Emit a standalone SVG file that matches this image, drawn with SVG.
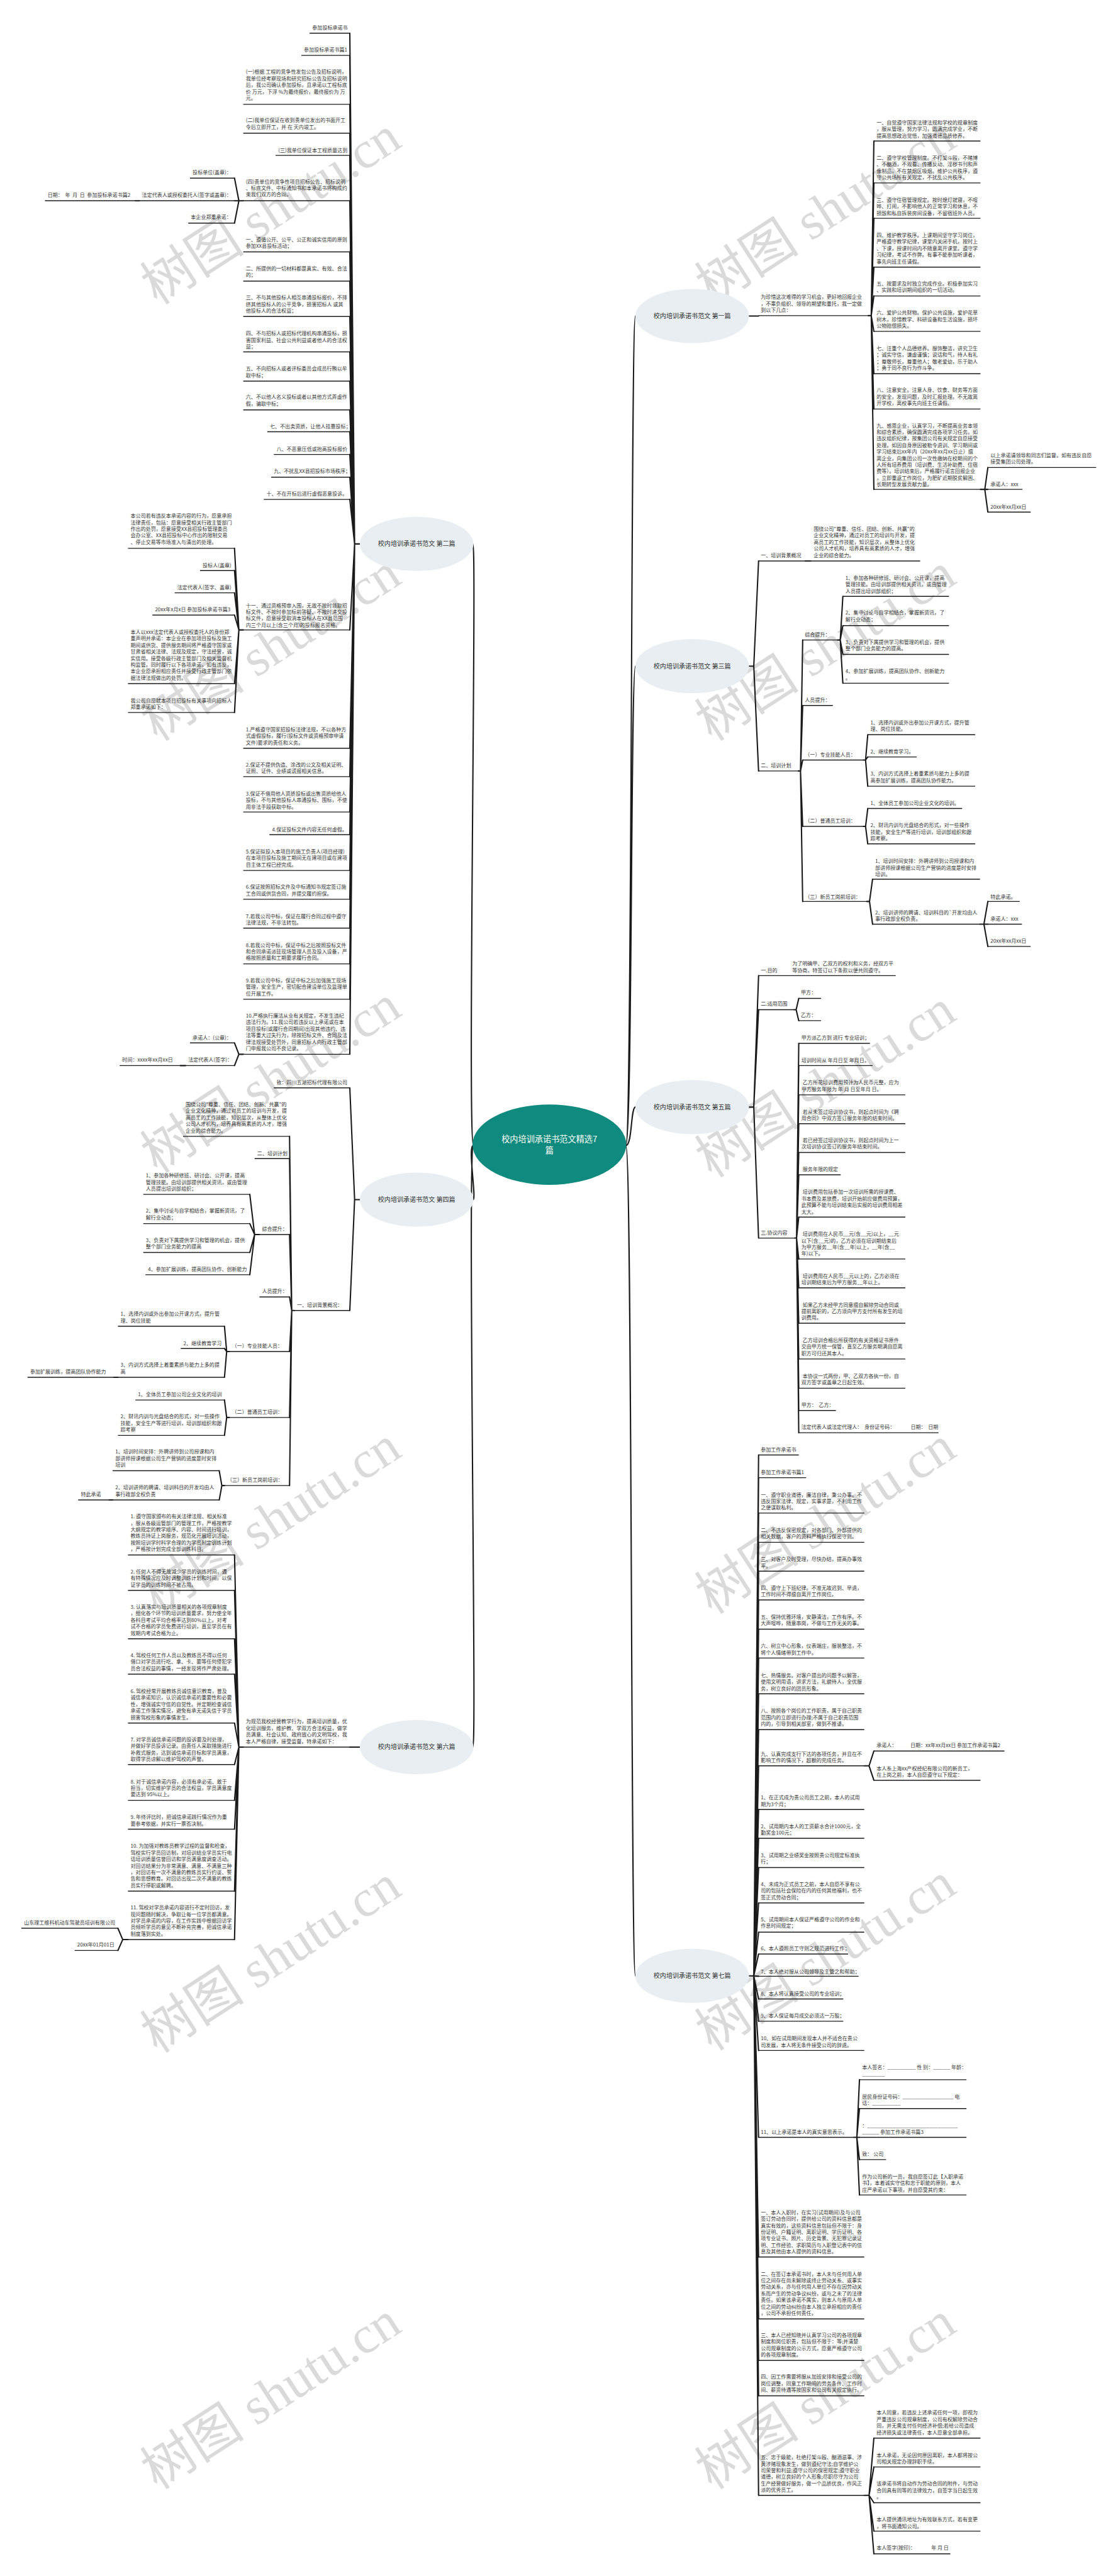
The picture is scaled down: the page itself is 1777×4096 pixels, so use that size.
<svg xmlns="http://www.w3.org/2000/svg" width="1777" height="4096" viewBox="0 0 1777 4096">
<style>
.t{font-family:"Noto Sans CJK SC","Noto Sans",sans-serif;font-size:11.6px;fill:#333;white-space:pre}
.u{stroke:#1a1a1a;stroke-width:2;fill:none}
.c{stroke:#1a1a1a;stroke-width:3;fill:none;stroke-linejoin:round;stroke-linecap:round}
.bn{fill:#e9eef3}
.bt{font-family:"Noto Sans CJK SC","Noto Sans",sans-serif;font-size:14.5px;fill:#333;text-anchor:middle}
.ct{font-family:"Noto Sans CJK SC","Noto Sans",sans-serif;font-size:19px;fill:#fff;text-anchor:middle}
.wm{font-family:"Liberation Serif","Noto Sans CJK SC",serif;font-size:120px;fill:#dadada}
</style>
<rect width="1777" height="4096" fill="#fff"/>
<g transform="scale(0.69414)">
<g id="watermarks">
<text class="wm" transform="translate(360 700) rotate(-33)">树图 shutu.cn</text>
<text class="wm" transform="translate(360 1700) rotate(-33)">树图 shutu.cn</text>
<text class="wm" transform="translate(360 2690) rotate(-33)">树图 shutu.cn</text>
<text class="wm" transform="translate(360 3700) rotate(-33)">树图 shutu.cn</text>
<text class="wm" transform="translate(360 4705) rotate(-33)">树图 shutu.cn</text>
<text class="wm" transform="translate(360 5705) rotate(-33)">树图 shutu.cn</text>
<text class="wm" transform="translate(1630 700) rotate(-33)">树图 shutu.cn</text>
<text class="wm" transform="translate(1630 1700) rotate(-33)">树图 shutu.cn</text>
<text class="wm" transform="translate(1630 2700) rotate(-33)">树图 shutu.cn</text>
<text class="wm" transform="translate(1630 3700) rotate(-33)">树图 shutu.cn</text>
<text class="wm" transform="translate(1630 4700) rotate(-33)">树图 shutu.cn</text>
<text class="wm" transform="translate(1630 5705) rotate(-33)">树图 shutu.cn</text>
</g>
<g id="connectors">
<path class="c" d="M1433 2624 C1448 2624 1444 724 1455 724 M1433 2624 C1448 2624 1444 1526 1455 1526 M1433 2624 C1448 2624 1444 2536 1455 2536 M1433 2624 C1448 2624 1444 4526 1455 4526"/>
<path class="c" d="M1084 2624 C1070 2624 1092 1246 1083 1246 M1084 2624 C1070 2624 1092 2748 1083 2748 M1084 2624 C1070 2624 1092 4002 1083 4002"/>
<path class="c" d="M824 1246 H812 M812 1246 L801 76 M812 1246 L801 127 M812 1246 L801 239 M812 1246 L801 305 M812 1246 L801 356 M812 1246 L801 460 M812 1246 L801 577 M812 1246 L801 644 M812 1246 L801 725 M812 1246 L801 806 M812 1246 L801 873 M812 1246 L801 939 M812 1246 L801 989 M812 1246 L801 1041 M812 1246 L801 1093 M812 1246 L801 1144 M812 1246 L801 1443 M812 1246 L801 1714 M812 1246 L801 1779 M812 1246 L801 1860 M812 1246 L801 1912 M812 1246 L801 1994 M812 1246 L801 2060 M812 1246 L801 2126 M812 1246 L801 2208 M812 1246 L801 2289 M812 1246 L801 2415"/>
<path class="c" d="M557 460 H547 L537 408 M547 460 L537 460 M547 460 L537 511 M319 460 H310"/>
<path class="c" d="M557 1443 H547 L537 1256 M547 1443 L537 1307 M547 1443 L537 1358 M547 1443 L537 1409 M547 1443 L537 1566 M547 1443 L537 1632"/>
<path class="c" d="M557 2415 H547 L537 2389 M547 2415 L537 2441 M425 2441 H413"/>
<path class="c" d="M824 2748 H812 L801 2492 M812 2748 L801 3002"/>
<path class="c" d="M674 3002 H668 L663 2603 M668 3002 L663 2654 M668 3002 L663 2828 M668 3002 L663 2971 M668 3002 L663 3096 M668 3002 L663 3247 M668 3002 L663 3403"/>
<path class="c" d="M594 2828 H583 L572 2736 M583 2828 L572 2803 M583 2828 L572 2869 M583 2828 L572 2920"/>
<path class="c" d="M525 3096 H519 L514 3038 M519 3096 L514 3089 M519 3096 L514 3155 M270 3155 H261"/>
<path class="c" d="M525 3247 H519 L514 3207 M519 3247 L514 3288"/>
<path class="c" d="M514 3403 H508 L502 3369 M508 3403 L502 3436 M258 3436 H250"/>
<path class="c" d="M824 4002 H801"/>
<path class="c" d="M557 4002 H547 L537 3562 M547 4002 L537 3643 M547 4002 L537 3754 M547 4002 L537 3835 M547 4002 L537 3947 M547 4002 L537 4042 M547 4002 L537 4124 M547 4002 L537 4190 M547 4002 L537 4332 M547 4002 L537 4443"/>
<path class="c" d="M293 4443 H281 L270 4417 M281 4443 L270 4468"/>
<path class="c" d="M1714 724 H1737"/>
<path class="c" d="M1988 723 H1995 L2001 323 M1995 723 L2001 419 M1995 723 L2001 500 M1995 723 L2001 612 M1995 723 L2001 678 M1995 723 L2001 759 M1995 723 L2001 856 M1995 723 L2001 937 M1995 723 L2001 1121"/>
<path class="c" d="M2245 1121 H2255 L2262 1071 M2255 1121 L2262 1121 M2255 1121 L2262 1173"/>
<path class="c" d="M1714 1526 H1726 L1737 1285 M1726 1526 L1737 1766 M1844 1285 H1856"/>
<path class="c" d="M1828 1766 H1833 L1838 1466 M1833 1766 L1838 1616 M1833 1766 L1838 1741 M1833 1766 L1838 1893 M1833 1766 L1838 2065"/>
<path class="c" d="M1918 1466 H1924 L1930 1366 M1924 1466 L1930 1433 M1924 1466 L1930 1499 M1924 1466 L1930 1565"/>
<path class="c" d="M1977 1741 H1982 L1987 1683 M1982 1741 L1987 1734 M1982 1741 L1987 1801"/>
<path class="c" d="M1977 1893 H1982 L1987 1852 M1982 1893 L1987 1933"/>
<path class="c" d="M1985 2065 H1991 L1998 2014 M1991 2065 L1998 2117"/>
<path class="c" d="M2244 2117 H2253 L2262 2065 M2253 2117 L2262 2117 M2253 2117 L2262 2168"/>
<path class="c" d="M1714 2536 H1726 L1737 2235 M1726 2536 L1737 2313 M1726 2536 L1737 2836"/>
<path class="c" d="M1818 2313 H1823 L1829 2287 M1823 2313 L1829 2338"/>
<path class="c" d="M1820 2836 H1824 L1829 2390 M1824 2836 L1829 2441 M1824 2836 L1829 2508 M1824 2836 L1829 2574 M1824 2836 L1829 2640 M1824 2836 L1829 2691 M1824 2836 L1829 2788 M1824 2836 L1829 2884 M1824 2836 L1829 2950 M1824 2836 L1829 3031 M1824 2836 L1829 3113 M1824 2836 L1829 3180 M1824 2836 L1829 3231 M1824 2836 L1829 3282"/>
<path class="c" d="M1714 4526 H1726 L1737 3333 M1726 4526 L1737 3385 M1726 4526 L1737 3466 M1726 4526 L1737 3533 M1726 4526 L1737 3599 M1726 4526 L1737 3665 M1726 4526 L1737 3732 M1726 4526 L1737 3798 M1726 4526 L1737 3880 M1726 4526 L1737 3962 M1726 4526 L1737 4045 M1726 4526 L1737 4145 M1726 4526 L1737 4211 M1726 4526 L1737 4278 M1726 4526 L1737 4359 M1726 4526 L1737 4426 M1726 4526 L1737 4476 M1726 4526 L1737 4527 M1726 4526 L1737 4579 M1726 4526 L1737 4630 M1726 4526 L1737 4697 M1726 4526 L1737 4896 M1726 4526 L1737 5170 M1726 4526 L1737 5312 M1726 4526 L1737 5407 M1726 4526 L1737 5488 M1726 4526 L1737 5716"/>
<path class="c" d="M1979 4045 H1990 L2001 4011 M1990 4045 L2001 4078"/>
<path class="c" d="M1955 4896 H1962 L1968 4764 M1962 4896 L1968 4830 M1962 4896 L1968 4896 M1962 4896 L1968 4947 M1962 4896 L1968 5028"/>
<path class="c" d="M1979 5716 H1990 L2001 5585 M1990 5716 L2001 5651 M1990 5716 L2001 5733 M1990 5716 L2001 5798 M1990 5716 L2001 5850"/>
</g>
<g id="center"><ellipse cx="1258" cy="2622" rx="176" ry="92" fill="#0f8a7e"/><text class="ct" x="1258" y="2616">校内培训承诺书范文精选7<tspan x="1258" dy="26">篇</tspan></text></g>
<g id="b2"><ellipse class="bn" cx="954" cy="1246" rx="130" ry="62"/><text class="bt" x="954" y="1251">校内培训承诺书范文 第二篇</text></g>
<g id="b4"><ellipse class="bn" cx="954" cy="2748" rx="130" ry="62"/><text class="bt" x="954" y="2753">校内培训承诺书范文 第四篇</text></g>
<g id="b6"><ellipse class="bn" cx="954" cy="4002" rx="130" ry="62"/><text class="bt" x="954" y="4007">校内培训承诺书范文 第六篇</text></g>
<g id="b1"><ellipse class="bn" cx="1585" cy="724" rx="130" ry="62"/><text class="bt" x="1585" y="729">校内培训承诺书范文 第一篇</text></g>
<g id="b3"><ellipse class="bn" cx="1585" cy="1526" rx="130" ry="62"/><text class="bt" x="1585" y="1531">校内培训承诺书范文 第三篇</text></g>
<g id="b5"><ellipse class="bn" cx="1585" cy="2536" rx="130" ry="62"/><text class="bt" x="1585" y="2541">校内培训承诺书范文 第五篇</text></g>
<g id="b7"><ellipse class="bn" cx="1585" cy="4526" rx="130" ry="62"/><text class="bt" x="1585" y="4531">校内培训承诺书范文 第七篇</text></g>

<g id="L2_1"><text class="t" x="715" y="67">参加投标承诺书</text><path class="u" d="M709 76H801"/></g>
<g id="L2_2"><text class="t" x="696" y="118">参加投标承诺书篇1</text><path class="u" d="M690 127H801"/></g>
<g id="L2_3"><text class="t" x="563" y="169">(一)根据 工程的竞争性发包公告及招标说明，<tspan x="563" dy="15">我单位经考察现场和研究招标公告及招标说明</tspan><tspan x="563" dy="15">后，我公司确认参加投标，且承诺以工程标底</tspan><tspan x="563" dy="15">价 万元，下浮 %为最终报价，最终报价为 万</tspan><tspan x="563" dy="15">元。</tspan></text><path class="u" d="M557 239H801"/></g>
<g id="L2_4"><text class="t" x="563" y="280">(二)我单位保证在收到贵单位发出的书面开工<tspan x="563" dy="15">令后立即开工，并 在 天内竣工。</tspan></text><path class="u" d="M557 305H801"/></g>
<g id="L2_5"><text class="t" x="637" y="348">(三)我单位保证本工程质量达到</text><path class="u" d="M631 356H801"/></g>
<g id="L2_6"><text class="t" x="563" y="420">(四)贵单位的竞争性项目招标公告、招标说明<tspan x="563" dy="15">、标底文件、中标通知书和本承诺书将构成约</tspan><tspan x="563" dy="15">束我们双方的合同。</tspan></text><path class="u" d="M557 460H801"/></g>
<g id="L2_6a"><text class="t" x="441" y="399">投标单位(盖章)：</text><path class="u" d="M435 408H537"/></g>
<g id="L2_6b"><text class="t" x="325" y="451">法定代表人或授权委托人(签字或盖章)：</text><path class="u" d="M319 460H537"/></g>
<g id="L2_6b1"><text class="t" x="109" y="451">日期：  年  月  日  参加投标承诺书篇2</text><path class="u" d="M103 460H310"/></g>
<g id="L2_6c"><text class="t" x="437" y="502">本企业郑重承诺：</text><path class="u" d="M431 511H537"/></g>
<g id="L2_7"><text class="t" x="563" y="553">一、遵循公开、公平、公正和诚实信用的原则<tspan x="563" dy="15">参加XX县投标活动；</tspan></text><path class="u" d="M557 577H801"/></g>
<g id="L2_8"><text class="t" x="563" y="619">二、所提供的一切材料都是真实、有效、合法<tspan x="563" dy="15">的；</tspan></text><path class="u" d="M557 644H801"/></g>
<g id="L2_9"><text class="t" x="563" y="686">三、不与其他投标人相互串通投标报价，不排<tspan x="563" dy="15">挤其他投标人的公平竞争，损害招标人 或其</tspan><tspan x="563" dy="15">他投标人的合法权益；</tspan></text><path class="u" d="M557 725H801"/></g>
<g id="L2_10"><text class="t" x="563" y="768">四、不与招标人或招标代理机构串通投标，损<tspan x="563" dy="15">害国家利益、社会公共利益或者他人的合法权</tspan><tspan x="563" dy="15">益；</tspan></text><path class="u" d="M557 806H801"/></g>
<g id="L2_11"><text class="t" x="563" y="849">五、不向招标人或者评标委员会成员行贿以牟<tspan x="563" dy="15">取中标；</tspan></text><path class="u" d="M557 873H801"/></g>
<g id="L2_12"><text class="t" x="563" y="914">六、不以他人名义投标或者以其他方式弄虚作<tspan x="563" dy="15">假，骗取中标；</tspan></text><path class="u" d="M557 939H801"/></g>
<g id="L2_13"><text class="t" x="618" y="981">七、不出卖资质，让他人挂靠投标；</text><path class="u" d="M612 989H801"/></g>
<g id="L2_14"><text class="t" x="633" y="1033">八、不恶意压低或抬高投标报价</text><path class="u" d="M627 1041H801"/></g>
<g id="L2_15"><text class="t" x="627" y="1084">九、不扰乱XX县招投标市场秩序；</text><path class="u" d="M621 1093H801"/></g>
<g id="L2_16"><text class="t" x="610" y="1135">十、不在开标后进行虚假恶意投诉。</text><path class="u" d="M604 1144H801"/></g>
<g id="L2_17"><text class="t" x="563" y="1391">十一、通过资格预审入围，无故不按时领取招<tspan x="563" dy="15">标文件、不按时参加标前答疑、不按时递交投</tspan><tspan x="563" dy="15">标文件，愿意接受取消本投标人在XX县范围</tspan><tspan x="563" dy="15">内三个月以上(含三个月)的投标报名资格。</tspan></text><path class="u" d="M557 1443H801"/></g>
<g id="L2_17a"><text class="t" x="299" y="1186">本公司若有违反本承诺内容的行为，愿意承担<tspan x="299" dy="15">法律责任，包括：愿意接受相关行政主管部门</tspan><tspan x="299" dy="15">作出的处罚，愿意接受XX县招投标管理委员</tspan><tspan x="299" dy="15">会办公室、XX县招投标中心作出的限制交易</tspan><tspan x="299" dy="15">、停止交易等市场准入与清出的处理。</tspan></text><path class="u" d="M293 1256H537"/></g>
<g id="L2_17b"><text class="t" x="464" y="1299">投标人(盖章)</text><path class="u" d="M458 1307H537"/></g>
<g id="L2_17c"><text class="t" x="406" y="1350">法定代表人(签字、盖章)</text><path class="u" d="M400 1358H537"/></g>
<g id="L2_17d"><text class="t" x="355" y="1401">20xx年x月x日 参加投标承诺书篇3</text><path class="u" d="M349 1409H537"/></g>
<g id="L2_17e"><text class="t" x="299" y="1452">本人以xxx法定代表人或授权委托人的身份郑<tspan x="299" dy="15">重声明并承诺：本企业在参加项目投标及施工</tspan><tspan x="299" dy="15">期间或供货、提供服务期间将严格遵守国家或</tspan><tspan x="299" dy="15">甘肃省相关法律、法规及规定，守法经营，诚</tspan><tspan x="299" dy="15">实信用。接受各级行政主管部门及相关监督机</tspan><tspan x="299" dy="15">构监管。同时履行以下各项承诺，如有违反，</tspan><tspan x="299" dy="15">本企业愿承担相应责任并接受行政主管部门依</tspan><tspan x="299" dy="15">据法律法规做出的处罚。</tspan></text><path class="u" d="M293 1566H537"/></g>
<g id="L2_17f"><text class="t" x="299" y="1609">我公司自愿就本项目招投标有关事项向招标人<tspan x="299" dy="15">郑重承诺如下：</tspan></text><path class="u" d="M293 1632H537"/></g>
<g id="L2_18"><text class="t" x="563" y="1675">1.严格遵守国家招投标法律法规，不以各种方<tspan x="563" dy="15">式虚假投标，履行(投标文件或资格预审申请</tspan><tspan x="563" dy="15">文件)要求的责任和义务。</tspan></text><path class="u" d="M557 1714H801"/></g>
<g id="L2_19"><text class="t" x="563" y="1756">2.保证不提供伪造、涂改的公文及相关证明、<tspan x="563" dy="15">证照、证件、业绩或谎报相关信息。</tspan></text><path class="u" d="M557 1779H801"/></g>
<g id="L2_20"><text class="t" x="563" y="1822">3.保证不借用他人资质投标或出售资质给他人<tspan x="563" dy="15">投标，不与其他投标人串通投标、围标，不使</tspan><tspan x="563" dy="15">用非法手段获取中标。</tspan></text><path class="u" d="M557 1860H801"/></g>
<g id="L2_21"><text class="t" x="623" y="1904">4.保证投标文件内容无任何虚假。</text><path class="u" d="M617 1912H801"/></g>
<g id="L2_22"><text class="t" x="563" y="1955">5.保证拟投入本项目的施工负责人(项目经理)<tspan x="563" dy="15">在本项目投标及施工期间无在建项目或在建项</tspan><tspan x="563" dy="15">目主体工程已经完成。</tspan></text><path class="u" d="M557 1994H801"/></g>
<g id="L2_23"><text class="t" x="563" y="2036">6.保证按照招标文件及中标通知书规定签订施<tspan x="563" dy="15">工合同或供货合同，并提交履约担保。</tspan></text><path class="u" d="M557 2060H801"/></g>
<g id="L2_24"><text class="t" x="563" y="2103">7.若我公司中标，保证在履行合同过程中遵守<tspan x="563" dy="15">法律法规，不非法转包。</tspan></text><path class="u" d="M557 2126H801"/></g>
<g id="L2_25"><text class="t" x="563" y="2169">8.若我公司中标，保证中标之后按照投标文件<tspan x="563" dy="15">和合同承诺派驻现场管理人员及投入设备，严</tspan><tspan x="563" dy="15">格按照质量和工期要求履行合同。</tspan></text><path class="u" d="M557 2208H801"/></g>
<g id="L2_26"><text class="t" x="563" y="2250">9.若我公司中标，保证中标之后加强施工现场<tspan x="563" dy="15">管理，安全生产，密切配合建设单位及监理单</tspan><tspan x="563" dy="15">位开展工作。</tspan></text><path class="u" d="M557 2289H801"/></g>
<g id="L2_27"><text class="t" x="563" y="2331">10.严格执行廉洁从业有关规定，不发生违纪<tspan x="563" dy="15">违法行为。11.我公司若违反以上承诺或在本</tspan><tspan x="563" dy="15">项目投标(或履行合同期间)出现其他违约、违</tspan><tspan x="563" dy="15">法等重大过失行为，除按招标文件、合同及法</tspan><tspan x="563" dy="15">律法规接受处罚外，同意招标人向行政主管部</tspan><tspan x="563" dy="15">门申报我公司不良记录。</tspan></text><path class="u" d="M557 2415H801"/></g>
<g id="L2_27a"><text class="t" x="441" y="2381">承诺人：(公章)：</text><path class="u" d="M435 2389H537"/></g>
<g id="L2_27b"><text class="t" x="431" y="2432">法定代表人(签字)：</text><path class="u" d="M425 2441H537"/></g>
<g id="L2_27b1"><text class="t" x="280" y="2432">时间：xxxx年xx月xx日</text><path class="u" d="M274 2441H413"/></g>

<g id="L4_1"><text class="t" x="633" y="2483">致：四川五湖招标代理有限公司</text><path class="u" d="M627 2492H801"/></g>
<g id="L4_2"><text class="t" x="680" y="2994">一、培训背景概况：</text><path class="u" d="M674 3002H801"/></g>
<g id="L4_2a"><text class="t" x="425" y="2534">围绕公司&quot;尊重、信任、团结、创新、共赢&quot;的<tspan x="425" dy="15">企业文化精神，通过对员工的培训与开发，提</tspan><tspan x="425" dy="15">高员工的工作技能，知识层次，从整体上优化</tspan><tspan x="425" dy="15">公司人才机构，培养具有高素质的人才，增强</tspan><tspan x="425" dy="15">企业的综合能力。</tspan></text><path class="u" d="M419 2603H663"/></g>
<g id="L4_2b"><text class="t" x="589" y="2646">二、培训计划</text><path class="u" d="M583 2654H663"/></g>
<g id="L4_2c"><text class="t" x="600" y="2819">综合提升：</text><path class="u" d="M594 2828H663"/></g>
<g id="L4_2c1"><text class="t" x="334" y="2697">1、参加各种研修班、研讨会、公开课，提高<tspan x="334" dy="15">管理技能。由培训部提供相关资讯，或由管理</tspan><tspan x="334" dy="15">人员提出培训部组织；</tspan></text><path class="u" d="M328 2736H572"/></g>
<g id="L4_2c2"><text class="t" x="334" y="2778">2、集中讨论与自学相结合，掌握新资讯，了<tspan x="334" dy="15">解行业动态；</tspan></text><path class="u" d="M328 2803H572"/></g>
<g id="L4_2c3"><text class="t" x="334" y="2845">3、负责对下属提供学习和管理的机会，提供<tspan x="334" dy="15">整个部门业务能力的提高</tspan></text><path class="u" d="M328 2869H572"/></g>
<g id="L4_2c4"><text class="t" x="339" y="2911">4、参加扩展训练，提高团队协作、创新能力</text><path class="u" d="M333 2920H572"/></g>
<g id="L4_2d"><text class="t" x="600" y="2962">人员提升：</text><path class="u" d="M594 2971H663"/></g>
<g id="L4_2e"><text class="t" x="531" y="3087">（一）专业技能人员：</text><path class="u" d="M525 3096H663"/></g>
<g id="L4_2e1"><text class="t" x="276" y="3014">1、选择内训或外出参加公开课方式，提升管<tspan x="276" dy="15">理、岗位技能</tspan></text><path class="u" d="M270 3038H514"/></g>
<g id="L4_2e2"><text class="t" x="420" y="3081">2、继续教育学习</text><path class="u" d="M414 3089H514"/></g>
<g id="L4_2e3"><text class="t" x="276" y="3131">3、内训方式选择上着重素质与能力上多的提<tspan x="276" dy="15">高</tspan></text><path class="u" d="M270 3155H514"/></g>
<g id="L4_2e3a"><text class="t" x="69" y="3147">参加扩展训练，提高团队协作能力</text><path class="u" d="M63 3155H261"/></g>
<g id="L4_2f"><text class="t" x="531" y="3239">（二）普通员工培训：</text><path class="u" d="M525 3247H663"/></g>
<g id="L4_2f1"><text class="t" x="316" y="3198">1、全体员工参加公司企业文化的培训</text><path class="u" d="M310 3207H514"/></g>
<g id="L4_2f2"><text class="t" x="276" y="3249">2、财讯内训与光盘结合的形式，对一些操作<tspan x="276" dy="15">技能，安全生产等进行培训，培训部组织和跟</tspan><tspan x="276" dy="15">踪考察</tspan></text><path class="u" d="M270 3288H514"/></g>
<g id="L4_2g"><text class="t" x="520" y="3394">（三）新员工岗前培训：</text><path class="u" d="M514 3403H663"/></g>
<g id="L4_2g1"><text class="t" x="264" y="3330">1、培训时间安排：外聘讲师到公司授课和内<tspan x="264" dy="15">部讲师授课根据公司生产营销的进度是时安排</tspan><tspan x="264" dy="15">培训</tspan></text><path class="u" d="M258 3369H502"/></g>
<g id="L4_2g2"><text class="t" x="264" y="3412">2、培训讲师的聘请、培训科目的开发均由人<tspan x="264" dy="15">事行政部全权负责</tspan></text><path class="u" d="M258 3436H502"/></g>
<g id="L4_2g2a"><text class="t" x="185" y="3427">特此承诺</text><path class="u" d="M179 3436H250"/></g>

<g id="L6_1"><text class="t" x="563" y="3948">为规范我校经营教学行为，提高培训质量，优<tspan x="563" dy="15">化培训服务，维护教、学双方合法权益，做学</tspan><tspan x="563" dy="15">员满意、社会认知、政府放心的文明驾校，我</tspan><tspan x="563" dy="15">本人严格自律，接受监督。特承诺如下：</tspan></text><path class="u" d="M557 4002H801"/></g>
<g id="L6_1a"><text class="t" x="299" y="3478">1. 遵守国家颁布的有关法律法规、相关标准<tspan x="299" dy="15">，服从各级运管部门的管理工作，严格按教学</tspan><tspan x="299" dy="15">大纲规定的教学顺序、内容、时间进行培训，</tspan><tspan x="299" dy="15">教练员持证上岗服务，规范化开展培训活动，</tspan><tspan x="299" dy="15">按照培训学时科学合理的为学员制定训练计划</tspan><tspan x="299" dy="15">，严格按计划完成全部训练科目。</tspan></text><path class="u" d="M293 3562H537"/></g>
<g id="L6_1b"><text class="t" x="299" y="3604">2. 任何人不得无故减少学员的训练时间，遇<tspan x="299" dy="15">有特殊情况应及时调整训练计划和时间，以保</tspan><tspan x="299" dy="15">证学员的训练时间不被占用。</tspan></text><path class="u" d="M293 3643H537"/></g>
<g id="L6_1c"><text class="t" x="299" y="3685">3. 认真落实与培训质量相关的各项规章制度<tspan x="299" dy="15">，细化各个环节的培训质量要求，努力使全年</tspan><tspan x="299" dy="15">各科目考试平均合格率达到80%以上。对考</tspan><tspan x="299" dy="15">试不合格的学员免费进行培训，直至学员在有</tspan><tspan x="299" dy="15">效期内考试合格为止。</tspan></text><path class="u" d="M293 3754H537"/></g>
<g id="L6_1d"><text class="t" x="299" y="3796">4. 驾校任何工作人员以及教练员不得以任何<tspan x="299" dy="15">借口对学员进行吃、拿、卡、要等任何侵犯学</tspan><tspan x="299" dy="15">员合法权益的事情，一经发现将作严肃处理。</tspan></text><path class="u" d="M293 3835H537"/></g>
<g id="L6_1e"><text class="t" x="299" y="3878">6. 驾校经常开展教练员诚信意识教育，普及<tspan x="299" dy="15">诚信承诺知识，认识诚信承诺的重要性和必要</tspan><tspan x="299" dy="15">性，增强诚实守信的自觉性。并定期检查诚信</tspan><tspan x="299" dy="15">承诺工作落实情况，避免有承无诺失信于学员</tspan><tspan x="299" dy="15">损害驾校形象的事情发生。</tspan></text><path class="u" d="M293 3947H537"/></g>
<g id="L6_1f"><text class="t" x="299" y="3989">7. 对学员诚信承诺问题的投诉要及时处理，<tspan x="299" dy="15">并做好学员投诉记录。由责任人采取措施进行</tspan><tspan x="299" dy="15">补救式服务，达到诚信承诺目标和学员满意，</tspan><tspan x="299" dy="15">取得学员谅解以维护驾校的声誉。</tspan></text><path class="u" d="M293 4042H537"/></g>
<g id="L6_1g"><text class="t" x="299" y="4085">8. 对于诚信承诺内容，必须有承必诺、敢于<tspan x="299" dy="15">担当，切实维护学员的合法权益，学员满意度</tspan><tspan x="299" dy="15">要达到 95%以上。</tspan></text><path class="u" d="M293 4124H537"/></g>
<g id="L6_1h"><text class="t" x="299" y="4167">9. 年终评比时，把诚信承诺践行情况作为重<tspan x="299" dy="15">要参考依据，并实行一票否决制。</tspan></text><path class="u" d="M293 4190H537"/></g>
<g id="L6_1i"><text class="t" x="299" y="4233">10. 为加强对教练员教学过程的监督和检查，<tspan x="299" dy="15">驾校实行学员回访制，对培训结业学员实行电</tspan><tspan x="299" dy="15">话培训质量信誉回访和学员满意度调查活动。</tspan><tspan x="299" dy="15">对回访结果分为非常满意、满意、不满意三种</tspan><tspan x="299" dy="15">，对回访有一次不满意的教练员实行约谈、警</tspan><tspan x="299" dy="15">告和思想教育。对回访出现二次不满意的教练</tspan><tspan x="299" dy="15">员实行停职或解聘。</tspan></text><path class="u" d="M293 4332H537"/></g>
<g id="L6_1j"><text class="t" x="299" y="4374">11. 驾校对学员承诺内容进行不定时回访，发<tspan x="299" dy="15">现问题随时解决，争取让每一位学员都满意。</tspan><tspan x="299" dy="15">对学员承诺的内容，在工作实践中根据回访学</tspan><tspan x="299" dy="15">员倾听学员的意见不断补充完善，把诚信承诺</tspan><tspan x="299" dy="15">制度落到实处。</tspan></text><path class="u" d="M293 4443H537"/></g>
<g id="L6_1j1"><text class="t" x="55" y="4408">山东理工维科机动车驾驶员培训有限公司</text><path class="u" d="M49 4417H270"/></g>
<g id="L6_1j2"><text class="t" x="177" y="4459">20xx年01月01日</text><path class="u" d="M171 4468H270"/></g>

<g id="R1_1"><text class="t" x="1742" y="685">为珍惜这次难得的学习机会，更好地回报企业<tspan x="1742" dy="15">，不辜负组织、领导的期望和重托，我一定做</tspan><tspan x="1742" dy="15">到以下几点：</tspan></text><path class="u" d="M1737 723H1988"/></g>
<g id="R1_1a"><text class="t" x="2007" y="285">一、自觉遵守国家法律法规和学校的规章制度<tspan x="2007" dy="15">，服从管理，努力学习，圆满完成学业，不断</tspan><tspan x="2007" dy="15">提高思想政治觉悟，加强道德品质修养。</tspan></text><path class="u" d="M2001 323H2245"/></g>
<g id="R1_1b"><text class="t" x="2007" y="366">二、遵守学校管理制度。不打架斗殴，不赌博<tspan x="2007" dy="15">、不酗酒，不观看、传播反动、淫秽书刊和声</tspan><tspan x="2007" dy="15">像制品，不在禁烟区吸烟。维护公共秩序，遵</tspan><tspan x="2007" dy="15">守公共场所有关规定，不扰乱公共秩序。</tspan></text><path class="u" d="M2001 419H2245"/></g>
<g id="R1_1c"><text class="t" x="2007" y="462">三、遵守住宿管理规定。按时熄灯就寝，不喧<tspan x="2007" dy="15">哗、打闹，不影响他人的正常学习和休息，不</tspan><tspan x="2007" dy="15">损毁和私自拆装房间设备，不留宿班外人员。</tspan></text><path class="u" d="M2001 500H2245"/></g>
<g id="R1_1d"><text class="t" x="2007" y="543">四、维护教学秩序。上课期间坚守学习岗位，<tspan x="2007" dy="15">严格遵守教学纪律，课堂内关闭手机，按时上</tspan><tspan x="2007" dy="15">、下课，授课时间内不随意离开课堂。遵守学</tspan><tspan x="2007" dy="15">习纪律，考试不作弊。有事不能参加听课者，</tspan><tspan x="2007" dy="15">事先向班主任请假。</tspan></text><path class="u" d="M2001 612H2245"/></g>
<g id="R1_1e"><text class="t" x="2007" y="654">五、按要求及时独立完成作业。积极参加实习<tspan x="2007" dy="15">、实践和培训期间组织的一切活动。</tspan></text><path class="u" d="M2001 678H2245"/></g>
<g id="R1_1f"><text class="t" x="2007" y="721">六、爱护公共财物。保护公共设施，爱护花草<tspan x="2007" dy="15">树木，珍惜教学、科研设备和生活设施，损坏</tspan><tspan x="2007" dy="15">公物赔偿损失。</tspan></text><path class="u" d="M2001 759H2245"/></g>
<g id="R1_1g"><text class="t" x="2007" y="802">七、注重个人品德修养。服饰整洁，讲究卫生<tspan x="2007" dy="15">；诚实守信，谦虚谨慎；说话和气，待人有礼</tspan><tspan x="2007" dy="15">；尊敬师长，尊重他人；敬老爱幼，乐于助人</tspan><tspan x="2007" dy="15">；勇于同不良行为作斗争。</tspan></text><path class="u" d="M2001 856H2245"/></g>
<g id="R1_1h"><text class="t" x="2007" y="898">八、注意安全。注意人身、饮食、财务等方面<tspan x="2007" dy="15">的安全，发现问题，及时汇报处理。不无故离</tspan><tspan x="2007" dy="15">开学校，离校事先向班主任请假。</tspan></text><path class="u" d="M2001 937H2245"/></g>
<g id="R1_1i"><text class="t" x="2007" y="979">九、感恩企业，认真学习，不断提高业务本领<tspan x="2007" dy="15">和综合素质，确保圆满完成各项学习任务。如</tspan><tspan x="2007" dy="15">违反组织纪律，按集团公司有关规定自愿接受</tspan><tspan x="2007" dy="15">处理。如因自身原因被勒令退训、学习期间或</tspan><tspan x="2007" dy="15">学习结束后xx年内（20xx年xx月xx日止）擅</tspan><tspan x="2007" dy="15">离企业，向集团公司一次性缴纳在校期间的个</tspan><tspan x="2007" dy="15">人所有培养费用（培训费、生活补助费、住宿</tspan><tspan x="2007" dy="15">费等）。培训结束后，严格履行诺言回报企业</tspan><tspan x="2007" dy="15">，立即重返工作岗位，为肥矿近期脱贫解困、</tspan><tspan x="2007" dy="15">长期转型发展贡献力量。</tspan></text><path class="u" d="M2001 1121H2245"/></g>
<g id="R1_1i1"><text class="t" x="2268" y="1047">以上承诺请领导和同志们监督。如有违反自愿<tspan x="2268" dy="15">接受集团公司处理。</tspan></text><path class="u" d="M2262 1071H2510"/></g>
<g id="R1_1i2"><text class="t" x="2268" y="1114">承诺人：xxx</text><path class="u" d="M2262 1121H2341"/></g>
<g id="R1_1i3"><text class="t" x="2268" y="1165">20xx年xx月xx日</text><path class="u" d="M2262 1173H2360"/></g>

<g id="R3_1"><text class="t" x="1742" y="1276">一、培训背景概况</text><path class="u" d="M1737 1285H1844"/></g>
<g id="R3_1a"><text class="t" x="1863" y="1216">围绕公司&quot;尊重、信任、团结、创新、共赢&quot;的<tspan x="1863" dy="15">企业文化精神，通过对员工的培训与开发，提</tspan><tspan x="1863" dy="15">高员工的工作技能，知识层次，从整体上优化</tspan><tspan x="1863" dy="15">公司人才机构，培养具有高素质的人才，增强</tspan><tspan x="1863" dy="15">企业的综合能力。</tspan></text><path class="u" d="M1856 1285H2107"/></g>
<g id="R3_2"><text class="t" x="1742" y="1757">二、培训计划</text><path class="u" d="M1737 1766H1828"/></g>
<g id="R3_2a"><text class="t" x="1843" y="1458">综合提升：</text><path class="u" d="M1838 1466H1918"/></g>
<g id="R3_2a1"><text class="t" x="1936" y="1328">1、参加各种研修班、研讨会、公开课，提高<tspan x="1936" dy="15">管理技能。由培训部提供相关资讯，或由管理</tspan><tspan x="1936" dy="15">人员提出培训部组织；</tspan></text><path class="u" d="M1930 1366H2173"/></g>
<g id="R3_2a2"><text class="t" x="1936" y="1408">2、集中讨论与自学相结合，掌握新资讯，了<tspan x="1936" dy="15">解行业动态；</tspan></text><path class="u" d="M1930 1433H2173"/></g>
<g id="R3_2a3"><text class="t" x="1936" y="1475">3、负责对下属提供学习和管理的机会，提供<tspan x="1936" dy="15">整个部门业务能力的提高。</tspan></text><path class="u" d="M1930 1499H2173"/></g>
<g id="R3_2a4"><text class="t" x="1936" y="1542">4、参加扩展训练，提高团队协作、创新能力<tspan x="1936" dy="15">。</tspan></text><path class="u" d="M1930 1565H2173"/></g>
<g id="R3_2b"><text class="t" x="1843" y="1608">人员提升：</text><path class="u" d="M1838 1616H1907"/></g>
<g id="R3_2c"><text class="t" x="1843" y="1733">（一）专业技能人员：</text><path class="u" d="M1838 1741H1977"/></g>
<g id="R3_2c1"><text class="t" x="1993" y="1659">1、选择内训或外出参加公开课方式，提升管<tspan x="1993" dy="15">理、岗位技能。</tspan></text><path class="u" d="M1987 1683H2233"/></g>
<g id="R3_2c2"><text class="t" x="1993" y="1726">2、继续教育学习。</text><path class="u" d="M1987 1734H2099"/></g>
<g id="R3_2c3"><text class="t" x="1993" y="1777">3、内训方式选择上着重素质与能力上多的提<tspan x="1993" dy="15">高参加扩展训练，提高团队协作能力。</tspan></text><path class="u" d="M1987 1801H2233"/></g>
<g id="R3_2d"><text class="t" x="1843" y="1884">（二）普通员工培训：</text><path class="u" d="M1838 1893H1977"/></g>
<g id="R3_2d1"><text class="t" x="1993" y="1844">1、全体员工参加公司企业文化的培训。</text><path class="u" d="M1987 1852H2203"/></g>
<g id="R3_2d2"><text class="t" x="1993" y="1895">2、财讯内训与光盘结合的形式，对一些操作<tspan x="1993" dy="15">技能，安全生产等进行培训，培训部组织和跟</tspan><tspan x="1993" dy="15">踪考察。</tspan></text><path class="u" d="M1987 1933H2233"/></g>
<g id="R3_2e"><text class="t" x="1843" y="2058">（三）新员工岗前培训：</text><path class="u" d="M1838 2065H1985"/></g>
<g id="R3_2e1"><text class="t" x="2004" y="1977">1、培训时间安排：外聘讲师到公司授课和内<tspan x="2004" dy="15">部讲师授课根据公司生产营销的进度是时安排</tspan><tspan x="2004" dy="15">培训。</tspan></text><path class="u" d="M1998 2014H2244"/></g>
<g id="R3_2e2"><text class="t" x="2004" y="2094">2、培训讲师的聘请、培训科目的`开发均由人<tspan x="2004" dy="15">事行政部全权负责。</tspan></text><path class="u" d="M1998 2117H2244"/></g>
<g id="R3_2e2a"><text class="t" x="2268" y="2058">特此承诺。</text><path class="u" d="M2262 2065H2335"/></g>
<g id="R3_2e2b"><text class="t" x="2268" y="2109">承诺人：xxx</text><path class="u" d="M2262 2117H2340"/></g>
<g id="R3_2e2c"><text class="t" x="2268" y="2160">20xx年xx月xx日</text><path class="u" d="M2262 2168H2360"/></g>

<g id="R5_1"><text class="t" x="1742" y="2227">一.目的</text><path class="u" d="M1737 2235H1811"/></g>
<g id="R5_1a"><text class="t" x="1814" y="2212">为了明确甲、乙双方的权利和义务，经双方平<tspan x="1814" dy="15">等协商，特签订以下条款以便共同遵守。</tspan></text><path class="u" d="M1811 2235H2051"/></g>
<g id="R5_2"><text class="t" x="1742" y="2304">二.适用范围</text><path class="u" d="M1737 2313H1818"/></g>
<g id="R5_2a"><text class="t" x="1834" y="2278">甲方：</text><path class="u" d="M1829 2287H1880"/></g>
<g id="R5_2b"><text class="t" x="1834" y="2329">乙方：</text><path class="u" d="M1829 2338H1880"/></g>
<g id="R5_3"><text class="t" x="1742" y="2828">三.协议内容</text><path class="u" d="M1737 2836H1820"/></g>
<g id="R5_3a"><text class="t" x="1835" y="2381">甲方派乙方到 进行 专业培训；</text><path class="u" d="M1829 2390H1992"/></g>
<g id="R5_3b"><text class="t" x="1835" y="2433">培训时间从 年月日至 年月日。</text><path class="u" d="M1829 2441H1998"/></g>
<g id="R5_3c"><text class="t" x="1838" y="2484">乙方所花培训费用预计为人民币元整，应为<tspan x="1835" dy="15">甲方服务年限为 年 月 日至年月 日。</tspan></text><path class="u" d="M1829 2508H2073"/></g>
<g id="R5_3d"><text class="t" x="1838" y="2551">若从未签过培训协议书，则起点时间为《聘<tspan x="1835" dy="15">用合同》中双方签订服务年限的结束时间。</tspan></text><path class="u" d="M1829 2574H2073"/></g>
<g id="R5_3e"><text class="t" x="1838" y="2616">若已经签过培训协议书，则起点时间为上一<tspan x="1835" dy="15">次培训协议签订的服务年结束时间。</tspan></text><path class="u" d="M1829 2640H2073"/></g>
<g id="R5_3f"><text class="t" x="1838" y="2683">服务年限的规定</text><path class="u" d="M1829 2691H1925"/></g>
<g id="R5_3g"><text class="t" x="1838" y="2735">培训费用包括参加一次培训所需的授课费、<tspan x="1835" dy="15">书本费及差旅费，培训开始前应做费用预算，</tspan><tspan x="1835" dy="15">此预算不能与培训结束后实报的培训费用相差</tspan><tspan x="1835" dy="15">太大。</tspan></text><path class="u" d="M1829 2788H2073"/></g>
<g id="R5_3h"><text class="t" x="1838" y="2831">培训费用在人民币__元(含__元)以上，__元<tspan x="1835" dy="15">以下(含__元)的，乙方必须在培训期结束后</tspan><tspan x="1835" dy="15">为甲方服务__年(含__年)以上，__年(含__</tspan><tspan x="1835" dy="15">年)以下。</tspan></text><path class="u" d="M1829 2884H2073"/></g>
<g id="R5_3i"><text class="t" x="1838" y="2927">培训费用在人民币__元以上的，乙方必须在<tspan x="1835" dy="15">培训期结束后为甲方服务__年以上。</tspan></text><path class="u" d="M1829 2950H2073"/></g>
<g id="R5_3j"><text class="t" x="1838" y="2993">如果乙方未经甲方同意擅自解除劳动合同或<tspan x="1835" dy="15">提前离职的，乙方须向甲方支付所有发生的培</tspan><tspan x="1835" dy="15">训费用。</tspan></text><path class="u" d="M1829 3031H2073"/></g>
<g id="R5_3k"><text class="t" x="1838" y="3074">乙方培训合格后所获得的有关资格证书原件<tspan x="1835" dy="15">交由甲方统一保管，直至乙方服务期满自愿离</tspan><tspan x="1835" dy="15">职方可归还其本人。</tspan></text><path class="u" d="M1829 3113H2073"/></g>
<g id="R5_3l"><text class="t" x="1838" y="3156">本协议一式两份，甲、乙双方各执一份，自<tspan x="1835" dy="15">双方签字或盖章之日起生效。</tspan></text><path class="u" d="M1829 3180H2073"/></g>
<g id="R5_3m"><text class="t" x="1835" y="3222">甲方：  乙方：</text><path class="u" d="M1829 3231H1914"/></g>
<g id="R5_3n"><text class="t" x="1835" y="3273">法定代表人或法定代理人：  身份证号码：              日期：  日期</text><path class="u" d="M1829 3282H2149"/></g>

<g id="R7_1"><text class="t" x="1742" y="3325">参加工作承诺书</text><path class="u" d="M1737 3333H1829"/></g>
<g id="R7_2"><text class="t" x="1742" y="3377">参加工作承诺书篇1</text><path class="u" d="M1737 3385H1846"/></g>
<g id="R7_3"><text class="t" x="1742" y="3428">一、遵守职业道德，廉洁自律，秉公办事。不<tspan x="1742" dy="15">违反国家法律、规定，实事求是，不利用工作</tspan><tspan x="1742" dy="15">之便谋取私利。</tspan></text><path class="u" d="M1737 3466H1979"/></g>
<g id="R7_4"><text class="t" x="1742" y="3509">二、不违反保密规定，对各部门、外部提供的<tspan x="1742" dy="15">相关数据，客户的资料严格执行保密守则。</tspan></text><path class="u" d="M1737 3533H1979"/></g>
<g id="R7_5"><text class="t" x="1742" y="3576">三、对客户及时受理，尽快办结，提高办事效<tspan x="1742" dy="15">率。</tspan></text><path class="u" d="M1737 3599H1979"/></g>
<g id="R7_6"><text class="t" x="1742" y="3642">四、遵守上下班纪律。不准无故迟到、早退，<tspan x="1742" dy="15">工作时间不得擅自离开工作岗位。</tspan></text><path class="u" d="M1737 3665H1979"/></g>
<g id="R7_7"><text class="t" x="1742" y="3708">五、保持优雅环境，安静清洁，工作有序。不<tspan x="1742" dy="15">大声喧哗，随意串岗，不做与工作无关的事。</tspan></text><path class="u" d="M1737 3732H1979"/></g>
<g id="R7_8"><text class="t" x="1742" y="3775">六、树立中心形象，仪表端庄，服装整洁，不<tspan x="1742" dy="15">将个人情绪带到工作中。</tspan></text><path class="u" d="M1737 3798H1979"/></g>
<g id="R7_9"><text class="t" x="1742" y="3842">七、热情服务。对客户提出的问题予以解答，<tspan x="1742" dy="15">使用文明用语，讲求方法，礼貌待人，全优服</tspan><tspan x="1742" dy="15">务，树立良好的团员形象。</tspan></text><path class="u" d="M1737 3880H1979"/></g>
<g id="R7_10"><text class="t" x="1742" y="3923">八、按照各个岗位的工作职责，属于自己职责<tspan x="1742" dy="15">范围内的立即进行办理;不属于自己职责范围</tspan><tspan x="1742" dy="15">内的，引导到相关部室，做到不推诿。</tspan></text><path class="u" d="M1737 3962H1979"/></g>
<g id="R7_11"><text class="t" x="1742" y="4022">九、认真完成支行下达的各项任务，并且在不<tspan x="1742" dy="15">影响工作的情况下，超额的完成任务。</tspan></text><path class="u" d="M1737 4045H1979"/></g>
<g id="R7_11a"><text class="t" x="2007" y="4002">承诺人：            日期：xx年xx月xx日 参加工作承诺书篇2</text><path class="u" d="M2001 4011H2300"/></g>
<g id="R7_11b"><text class="t" x="2007" y="4055">本人系上海xx产权经纪有限公司的新员工，<tspan x="2007" dy="15">在上岗之前，本人自愿遵守以下规定：</tspan></text><path class="u" d="M2001 4078H2245"/></g>
<g id="R7_12"><text class="t" x="1742" y="4122">1、在正式成为贵公司员工之前，本人的试用<tspan x="1742" dy="15">期为3个月；</tspan></text><path class="u" d="M1737 4145H1979"/></g>
<g id="R7_13"><text class="t" x="1742" y="4188">2、试用期内本人的工资薪水合计1000元，全<tspan x="1742" dy="15">勤奖金100元；</tspan></text><path class="u" d="M1737 4211H1979"/></g>
<g id="R7_14"><text class="t" x="1742" y="4254">3、试用期之业绩奖金按照贵公司规定标准执<tspan x="1742" dy="15">行；</tspan></text><path class="u" d="M1737 4278H1979"/></g>
<g id="R7_15"><text class="t" x="1742" y="4320">4、未成为正式员工之前，本人自愿不享有公<tspan x="1742" dy="15">司的包括社会保险在内的任何其他福利，也不</tspan><tspan x="1742" dy="15">签正式劳动合同；</tspan></text><path class="u" d="M1737 4359H1979"/></g>
<g id="R7_16"><text class="t" x="1742" y="4401">5、试用期间本人保证严格遵守公司的作业和<tspan x="1742" dy="15">作息时间规定；</tspan></text><path class="u" d="M1737 4426H1979"/></g>
<g id="R7_17"><text class="t" x="1742" y="4468">6、本人遵照员工守则之规范进行工作；</text><path class="u" d="M1737 4476H1942"/></g>
<g id="R7_18"><text class="t" x="1742" y="4520">7、本人绝对服从公司领导及主管之和帮助；</text><path class="u" d="M1737 4527H1966"/></g>
<g id="R7_19"><text class="t" x="1742" y="4571">8、本人将认真接受公司的专业培训；</text><path class="u" d="M1737 4579H1931"/></g>
<g id="R7_20"><text class="t" x="1742" y="4622">9、本人保证每月成交必须达一万股；</text><path class="u" d="M1737 4630H1931"/></g>
<g id="R7_21"><text class="t" x="1742" y="4674">10、如在试用期间发现本人并不适合在贵公<tspan x="1742" dy="15">司发展，本人将无条件接受公司的辞退。</tspan></text><path class="u" d="M1737 4697H1979"/></g>
<g id="R7_22"><text class="t" x="1742" y="4888">11、以上承诺是本人的真实意思表示。</text><path class="u" d="M1737 4896H1955"/></g>
<g id="R7_22a"><text class="t" x="1974" y="4740">本人签名：__________ 性 别：______ 年龄：<tspan x="1974" dy="15">________</tspan></text><path class="u" d="M1968 4764H2213"/></g>
<g id="R7_22b"><text class="t" x="1974" y="4807">居民身份证号码：__________________ 电<tspan x="1974" dy="15">话：__________</tspan></text><path class="u" d="M1968 4830H2213"/></g>
<g id="R7_22c"><text class="t" x="1974" y="4873">：________________________________<tspan x="1974" dy="15">______ 参加工作承诺书篇3</tspan></text><path class="u" d="M1968 4896H2213"/></g>
<g id="R7_22d"><text class="t" x="1974" y="4939">致： 公司</text><path class="u" d="M1968 4947H2029"/></g>
<g id="R7_22e"><text class="t" x="1974" y="4990">作为公司新的一员，我自愿签订此【入职承诺<tspan x="1974" dy="15">书】，本着诚实守信和忠于职能的原则，本人</tspan><tspan x="1974" dy="15">庄严承诺以下事项，并自愿受其约束：</tspan></text><path class="u" d="M1968 5028H2213"/></g>
<g id="R7_23"><text class="t" x="1742" y="5072">一、本人入职时，在实习(试用期间)及与公司<tspan x="1742" dy="15">签订劳动合同时，提供给公司的资料信息都是</tspan><tspan x="1742" dy="15">真实有效的，这些资料信息包括但不限于：身</tspan><tspan x="1742" dy="15">份证明、户籍证明、离职证明、学历证明、各</tspan><tspan x="1742" dy="15">项专业证书、照片、历史背景、无犯罪记录证</tspan><tspan x="1742" dy="15">明、工作经验、求职简历与入职登记表中的信</tspan><tspan x="1742" dy="15">息及其他由本人提供的资料信息。</tspan></text><path class="u" d="M1737 5170H1979"/></g>
<g id="R7_24"><text class="t" x="1742" y="5213">二、在签订本承诺书时，本人未与任何用人单<tspan x="1742" dy="15">位之间存在尚未解除或终止劳动关系、或事实</tspan><tspan x="1742" dy="15">劳动关系，亦与任何用人单位不存在因劳动关</tspan><tspan x="1742" dy="15">系而产生的劳动争议纠纷，或与之未了的法律</tspan><tspan x="1742" dy="15">责任。如果该承诺不属实，则本人与原用人单</tspan><tspan x="1742" dy="15">位之间的劳动纠纷由本人独立承担相应的责任</tspan><tspan x="1742" dy="15">，公司不承担任何责任。</tspan></text><path class="u" d="M1737 5312H1979"/></g>
<g id="R7_25"><text class="t" x="1742" y="5353">三、本人已经知晓并认真学习公司的各项规章<tspan x="1742" dy="15">制度和岗位职责，包括但不限于：等;并清楚</tspan><tspan x="1742" dy="15">公司规章制度的公示方式，愿意严格遵守公司</tspan><tspan x="1742" dy="15">的各项规章制度。</tspan></text><path class="u" d="M1737 5407H1979"/></g>
<g id="R7_26"><text class="t" x="1742" y="5449">四、因工作需要将服从加班安排和接受公司的<tspan x="1742" dy="15">岗位调整，同意工作期间的劳务条件、工作时</tspan><tspan x="1742" dy="15">间、薪资待遇等按国家和公司有关规定执行。</tspan></text><path class="u" d="M1737 5488H1979"/></g>
<g id="R7_27"><text class="t" x="1742" y="5633">五、忠于级能，杜绝打架斗殴、酗酒滋事、涉<tspan x="1742" dy="15">黄涉赌现象发生，做到遵纪守法;自学维护公</tspan><tspan x="1742" dy="15">司荣誉和利益;遵守公司的保密规定;遵守职业</tspan><tspan x="1742" dy="15">道德，树立良好的个人形象;尽职尽守为公司</tspan><tspan x="1742" dy="15">生产经营做好服务，做一个品质优良，作风正</tspan><tspan x="1742" dy="15">派的优秀员工。</tspan></text><path class="u" d="M1737 5716H1979"/></g>
<g id="R7_27a"><text class="t" x="2007" y="5531">本人同意，若违反上述承诺任何一项，即视为<tspan x="2007" dy="15">严重违反公司规章制度，公司有权解除劳动合</tspan><tspan x="2007" dy="15">同，并无需支付任何经济补偿;若给公司造成</tspan><tspan x="2007" dy="15">经济损失或法律责任，本人愿意全部承担。</tspan></text><path class="u" d="M2001 5585H2245"/></g>
<g id="R7_27b"><text class="t" x="2007" y="5628">本人承诺，无论因何原因离职，本人都将按公<tspan x="2007" dy="15">司相关规定办理辞职手续。</tspan></text><path class="u" d="M2001 5651H2245"/></g>
<g id="R7_27c"><text class="t" x="2007" y="5694">该承诺书将自动作为劳动合同的附件，与劳动<tspan x="2007" dy="15">合同具有同等的法律效力，自签字当日起生效</tspan><tspan x="2007" dy="15">。</tspan></text><path class="u" d="M2001 5733H2245"/></g>
<g id="R7_27d"><text class="t" x="2007" y="5776">本人提供通讯地址为有效联系方式，若有变更<tspan x="2007" dy="15">，将书面通知公司。</tspan></text><path class="u" d="M2001 5798H2245"/></g>
<g id="R7_27e"><text class="t" x="2007" y="5841">本人签字(按印)：              年 月 日</text><path class="u" d="M2001 5850H2176"/></g>
</g>
</svg>
